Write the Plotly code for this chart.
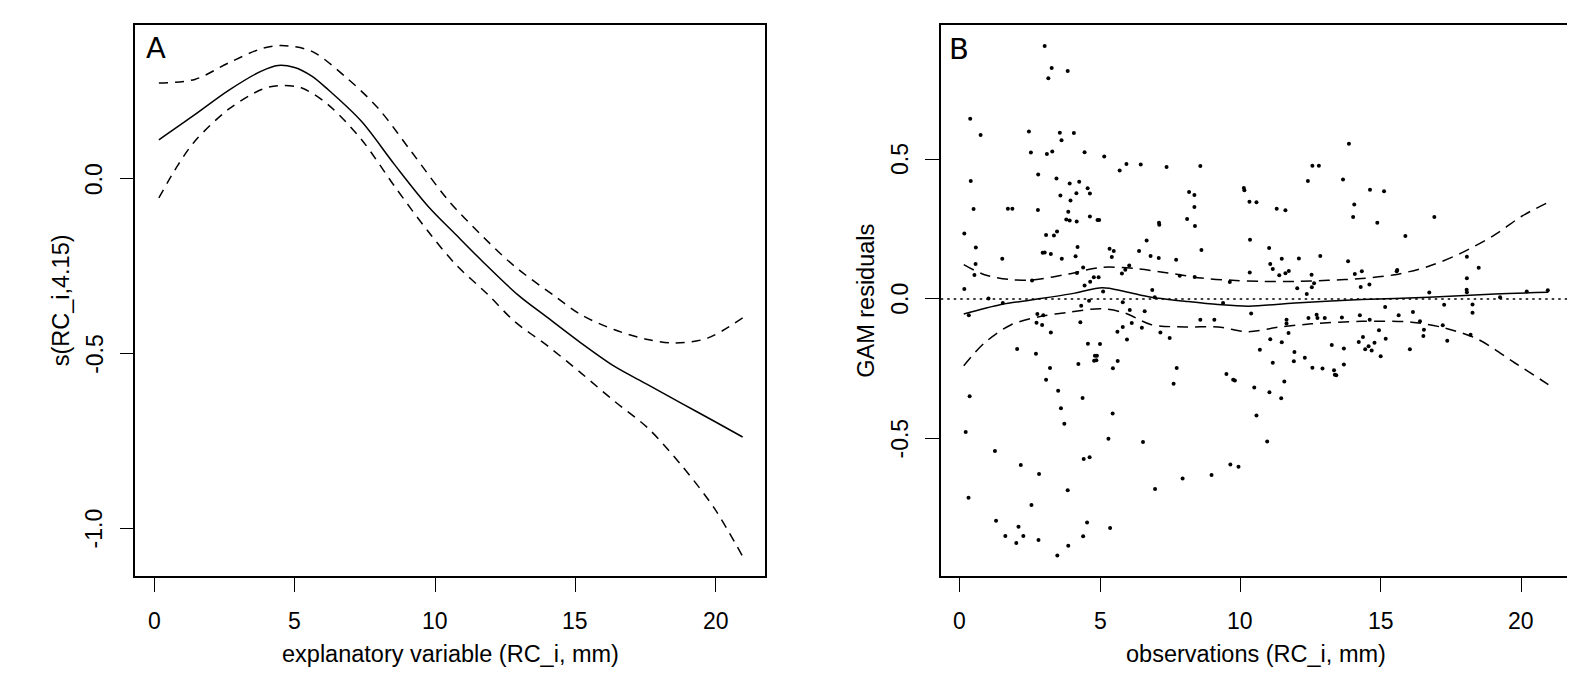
import plotly.graph_objects as go

# panel A: smooth term s(RC_i,4.15) with +/- 2 se bands
fit_a_x = [0.17, 1.45, 2.64, 3.82, 4.41, 5.0, 5.6, 6.19, 7.38, 8.56, 9.75, 10.75, 11.64,
           12.95, 14.02, 15.2, 16.39, 17.57, 18.76, 19.94, 20.95]
fit_a_y = [0.112, 0.184, 0.253, 0.309, 0.325, 0.319, 0.295, 0.256, 0.165, 0.041, -0.078,
           -0.160, -0.232, -0.332, -0.398, -0.470, -0.537, -0.589, -0.642, -0.694, -0.739]
up_a_x = [0.17, 1.45, 2.64, 3.82, 4.53, 5.6, 6.79, 7.97, 9.15, 10.46, 11.64, 12.83,
          14.25, 15.2, 16.39, 17.57, 18.52, 19.7, 20.95]
up_a_y = [0.275, 0.285, 0.332, 0.373, 0.382, 0.366, 0.294, 0.203, 0.079, -0.06, -0.160,
          -0.250, -0.335, -0.389, -0.432, -0.460, -0.470, -0.456, -0.398]
lo_a_x = [0.17, 0.86, 1.45, 2.64, 3.82, 4.41, 5.24, 6.19, 7.38, 8.56, 9.75, 10.75, 11.88,
          12.83, 14.02, 15.2, 16.39, 17.57, 18.76, 19.94, 20.95]
lo_a_y = [-0.054, 0.041, 0.108, 0.199, 0.256, 0.267, 0.261, 0.213, 0.113, -0.021, -0.150,
          -0.246, -0.331, -0.408, -0.479, -0.556, -0.637, -0.713, -0.819, -0.943, -1.081]

# panel B: residuals with smoother and bands
fit_b_x = [0.15, 1.48, 2.67, 4.10, 5.08, 5.88, 6.83, 8.02, 9.2, 10.3, 11.94, 14.3, 16.7,
           19.06, 20.96]
fit_b_y = [-0.054, -0.020, -0.002, 0.021, 0.040, 0.027, 0.006, -0.008, -0.020, -0.026,
           -0.014, -0.002, 0.006, 0.018, 0.024]
up_b_x = [0.15, 0.89, 1.84, 2.67, 3.86, 5.05, 6.24, 7.42, 8.61, 9.7, 10.75, 11.94, 13.12,
          14.31, 15.5, 16.7, 17.87, 19.06, 20.01, 20.96]
up_b_y = [0.123, 0.087, 0.069, 0.069, 0.089, 0.113, 0.109, 0.093, 0.075, 0.067, 0.063,
          0.063, 0.067, 0.073, 0.087, 0.117, 0.165, 0.230, 0.296, 0.346]
lo_b_x = [0.15, 0.89, 1.84, 2.91, 3.86, 5.05, 5.88, 6.83, 8.02, 9.2, 10.27, 11.34, 12.53,
          14.31, 16.09, 17.28, 18.47, 19.77, 20.96]
lo_b_y = [-0.239, -0.157, -0.092, -0.062, -0.048, -0.035, -0.050, -0.092, -0.100, -0.100,
          -0.117, -0.101, -0.089, -0.080, -0.083, -0.104, -0.145, -0.229, -0.306]

resid_x = [
    3.03, 3.28, 3.16, 3.85, 0.38, 0.75, 2.47, 3.57, 3.63, 4.07, 2.54, 3.11, 3.30, 4.45,
    5.15, 5.70, 5.94, 6.45, 7.37, 8.57, 0.40, 2.80, 3.45, 3.92, 4.26, 3.59, 4.16, 3.95,
    4.56, 4.64, 8.17, 8.36, 10.12, 10.14, 0.50, 1.72, 1.88, 2.79, 3.87, 8.36, 3.80, 3.92,
    4.17, 4.64, 4.91, 4.97, 8.10, 8.38, 7.10, 7.11, 0.17, 3.08, 3.36, 3.47, 6.66, 0.58,
    2.96, 3.03, 3.25, 3.64, 4.13, 4.20, 5.34, 5.49, 5.42, 1.52, 6.39, 6.80, 7.09, 7.71,
    8.61, 0.57, 0.53, 4.40, 5.78, 5.90, 6.04, 4.18, 4.45, 4.65, 4.78, 4.95, 2.58, 7.84,
    8.37, 9.62, 0.17, 5.11, 6.86, 1.03,
    13.86, 12.56, 12.79, 12.40, 13.65, 10.32, 10.57, 11.29, 11.60, 14.05, 14.01, 14.61,
    15.11, 14.87, 16.90, 15.87, 10.34, 11.02, 11.47, 12.08, 12.84, 13.83, 11.06, 11.15,
    11.38, 11.60, 11.72, 12.53, 10.33, 12.62, 12.54, 12.02, 12.36, 14.07, 14.32, 14.28,
    14.59, 15.56, 15.58, 18.06, 18.48, 18.06, 16.72, 18.05, 18.06, 20.19, 20.94, 19.24,
    10.38, 15.15, 15.63, 16.14, 17.25, 18.26, 18.26, 11.64, 11.64, 12.42, 12.71, 12.74,
    13.00, 13.61, 14.25, 14.60, 16.39, 16.53, 16.51, 17.20, 17.36, 18.19, 11.71, 11.06,
    11.47, 10.69, 11.15, 11.92, 11.90, 12.29, 12.56, 12.92, 13.25, 13.33, 13.36, 13.41,
    13.68, 13.68, 14.21, 14.36, 14.44, 14.56, 14.67, 14.77, 14.93, 15.17, 14.99, 16.03,
    9.74, 9.80, 10.49, 11.03, 11.56, 11.45, 10.57, 10.95, 9.64, 9.93,
    1.54, 4.61, 4.33, 5.81, 6.95, 9.38, 0.33, 2.77, 2.98, 2.74, 2.94, 3.25, 4.30, 6.06,
    6.59, 6.13, 5.81, 5.62, 5.96, 6.49, 7.15, 7.48, 8.57, 9.07, 2.05, 2.72, 3.22, 3.08,
    4.57, 5.00, 4.82, 4.89, 4.79, 4.87, 4.23, 5.63, 5.46, 7.73, 7.62, 9.50, 0.36, 3.51,
    3.61, 3.73, 4.38, 5.45, 0.22, 5.30, 6.53, 1.26, 2.18, 2.83, 4.42, 4.63, 0.32, 3.85,
    2.56, 6.96, 7.94, 8.97, 1.30, 2.10, 1.63, 2.27, 2.02, 2.81, 4.54, 5.36, 4.40, 3.87,
    3.48]
resid_y = [
    0.905, 0.826, 0.790, 0.816, 0.645, 0.587, 0.599, 0.595, 0.568, 0.594, 0.524, 0.519,
    0.528, 0.525, 0.510, 0.460, 0.483, 0.481, 0.472, 0.476, 0.422, 0.445, 0.431, 0.413,
    0.419, 0.370, 0.378, 0.352, 0.396, 0.377, 0.383, 0.372, 0.397, 0.389, 0.322, 0.323,
    0.323, 0.318, 0.312, 0.329, 0.284, 0.281, 0.277, 0.295, 0.283, 0.283, 0.286, 0.261,
    0.273, 0.266, 0.234, 0.229, 0.227, 0.241, 0.209, 0.184, 0.165, 0.166, 0.161, 0.144,
    0.153, 0.186, 0.180, 0.172, 0.150, 0.144, 0.172, 0.154, 0.147, 0.140, 0.175, 0.125,
    0.086, 0.113, 0.091, 0.105, 0.120, 0.093, 0.048, 0.062, 0.078, 0.078, 0.066, 0.083,
    0.079, 0.061, 0.036, 0.027, 0.032, 0.002,
    0.555, 0.477, 0.477, 0.422, 0.427, 0.348, 0.346, 0.323, 0.317, 0.338, 0.293, 0.391,
    0.385, 0.273, 0.293, 0.225, 0.212, 0.182, 0.144, 0.145, 0.154, 0.135, 0.125, 0.107,
    0.085, 0.092, 0.100, 0.087, 0.095, 0.056, 0.042, 0.038, 0.018, 0.089, 0.099, 0.043,
    0.052, 0.099, 0.104, 0.151, 0.112, 0.074, 0.023, 0.033, 0.024, 0.027, 0.031, 0.006,
    -0.052, -0.029, -0.058, -0.047, -0.021, -0.020, -0.049, -0.074, -0.088, -0.068,
    -0.056, -0.068, -0.068, -0.066, -0.058, -0.074, -0.080, -0.110, -0.132, -0.094,
    -0.149, -0.128, -0.122, -0.144, -0.155, -0.182, -0.228, -0.190, -0.223, -0.210,
    -0.246, -0.249, -0.165, -0.255, -0.271, -0.273, -0.177, -0.234, -0.154, -0.136,
    -0.180, -0.169, -0.184, -0.157, -0.112, -0.142, -0.205, -0.180,
    -0.289, -0.292, -0.317, -0.334, -0.295, -0.355, -0.417, -0.510, -0.592, -0.600,
    -0.014, -0.006, -0.024, -0.012, 0.006, -0.014, -0.058, -0.054, -0.058, -0.085,
    -0.093, -0.120, -0.083, -0.039, -0.044, -0.086, -0.100, -0.117, -0.145, -0.103,
    -0.120, -0.140, -0.074, -0.074, -0.179, -0.196, -0.247, -0.289, -0.160, -0.161,
    -0.203, -0.203, -0.221, -0.219, -0.233, -0.222, -0.248, -0.247, -0.303, -0.268,
    -0.348, -0.328, -0.391, -0.446, -0.354, -0.410, -0.476, -0.500, -0.512, -0.544,
    -0.594, -0.626, -0.572, -0.566, -0.711, -0.684, -0.737, -0.680, -0.642, -0.630,
    -0.793, -0.815, -0.848, -0.848, -0.873, -0.862, -0.800, -0.819, -0.849, -0.883,
    -0.918]

x_ticks = [0, 5, 10, 15, 20]
a_ticks = [0.0, -0.5, -1.0]
b_ticks = [-0.5, 0.0, 0.5]

FONT = "Liberation Sans, Arial, sans-serif"
dash_a = "9px,7px"
dash_b = "11px,7px"

fig = go.Figure()

def curve(x, y, dash, xa, ya):
    fig.add_trace(go.Scatter(x=x, y=y, mode="lines", xaxis=xa, yaxis=ya,
                             line=dict(color="black", width=1.5, dash=dash,
                                       shape="spline", smoothing=0.9),
                             showlegend=False, hoverinfo="skip"))

curve(fit_a_x, fit_a_y, "solid", "x", "y")
curve(up_a_x, up_a_y, dash_a, "x", "y")
curve(lo_a_x, lo_a_y, dash_a, "x", "y")

fig.add_trace(go.Scatter(x=resid_x, y=resid_y, mode="markers", xaxis="x2", yaxis="y2",
                         marker=dict(color="black", size=4), showlegend=False))
curve(fit_b_x, fit_b_y, "solid", "x2", "y2")
curve(up_b_x, up_b_y, dash_b, "x2", "y2")
curve(lo_b_x, lo_b_y, dash_b, "x2", "y2")

# R-style box with outside ticks; tick labels are placed as annotations below
axis_common = dict(showline=True, mirror=True, linecolor="black", linewidth=1.5,
                   ticks="outside", ticklen=14, tickwidth=1.3, tickcolor="black",
                   showgrid=False, zeroline=False, showticklabels=False)

xr = [-0.67, 21.755]
fig.update_layout(
    width=1575, height=690,
    paper_bgcolor="white", plot_bgcolor="white",
    margin=dict(l=0, r=0, t=0, b=0, autoexpand=False),
    xaxis=dict(domain=[0.0808, 0.4808], range=xr, tickvals=x_ticks, anchor="y",
               **axis_common),
    yaxis=dict(domain=[0.1764, 0.9749], range=[-1.138, 0.440], tickvals=a_ticks,
               anchor="x", **axis_common),
    xaxis2=dict(domain=[0.5922, 0.9922], range=xr, tickvals=x_ticks, anchor="y2",
                **axis_common),
    yaxis2=dict(domain=[0.1764, 0.9749], range=[-0.992, 0.979], tickvals=b_ticks,
                anchor="x2", **axis_common),
)

# horizontal dotted reference line at zero in panel B
fig.add_shape(type="line", xref="x2 domain", yref="y2", x0=0, x1=1, y0=0, y1=0,
              line=dict(color="black", width=1.3, dash="2.5px,4px"))

tick_font = dict(family=FONT, size=23, color="black")
for xa in ["x", "x2"]:
    for v in x_ticks:
        fig.add_annotation(xref=xa, yref="paper", x=v, y=0.1123, text=str(v),
                           showarrow=False, xanchor="center", yanchor="middle",
                           font=tick_font)
for ya, ticks, xp in [("y", a_ticks, 0.0548), ("y2", b_ticks, 0.5662)]:
    for v in ticks:
        fig.add_annotation(xref="paper", yref=ya, x=xp, y=v, text="%.1f" % v,
                           textangle=-90, showarrow=False, xanchor="center",
                           yanchor="middle", font=tick_font)

title_font = dict(family=FONT, size=23.5, color="black")
annots = [
    dict(x=0.2808, y=0.0638, text="explanatory variable (RC_i, mm)"),
    dict(x=0.7922, y=0.0638, text="observations (RC_i, mm)"),
    dict(x=0.0334, y=0.5757, text="s(RC_i,4.15)", textangle=-90),
    dict(x=0.5448, y=0.5757, text="GAM residuals", textangle=-90),
]
for a in annots:
    fig.add_annotation(xref="paper", yref="paper", showarrow=False,
                       xanchor="center", yanchor="middle", font=title_font, **a)

letter_font = dict(family="DejaVu Sans, sans-serif", size=29, color="black")
fig.add_annotation(xref="paper", yref="paper", x=0.0865, y=0.9425, text="A",
                   showarrow=False, xanchor="left", yanchor="middle", font=letter_font)
fig.add_annotation(xref="paper", yref="paper", x=0.5962, y=0.9413, text="B",
                   showarrow=False, xanchor="left", yanchor="middle", font=letter_font)

fig.write_html("out.html")
